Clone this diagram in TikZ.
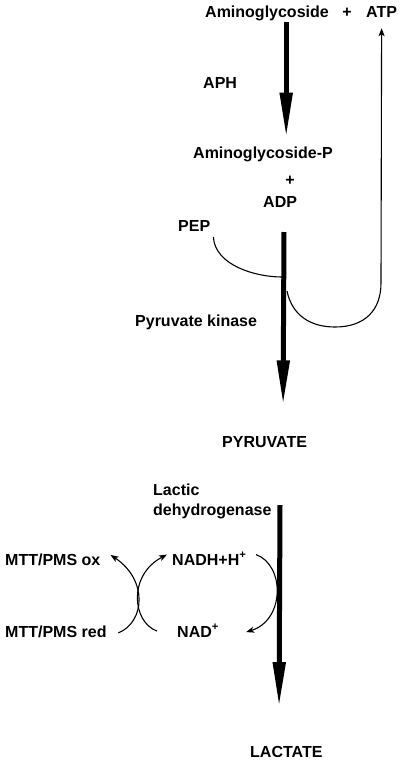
\documentclass[tikz,border=0pt]{standalone}
\usepackage{fontspec}
\setmainfont{Liberation Sans}
\usetikzlibrary{arrows.meta,calc}
\begin{document}
\begin{tikzpicture}[x=1pt,y=-1pt,
  lbl/.style={inner sep=0pt,anchor=base west,font=\fontsize{16}{19}\selectfont\bfseries},
  bigarrow/.style={line width=5pt,-{Triangle[length=45pt,width=12pt]}},
  smallarrow/.style={line width=1.1pt,-{Stealth[length=8pt,width=6pt,inset=2pt]}},
  smallline/.style={line width=1.1pt}]
\useasboundingbox (0,0) rectangle (400,761);
% labels
\node[lbl] (amino) at (205,17) {Aminoglycoside};
\node[lbl,anchor=base] (plusa) at (347,17) {+};
\node[lbl] (atp) at (366,17) {ATP};
\node[lbl] (aph) at (203,88) {APH};
\node[lbl] (aminop) at (193,158) {Aminoglycoside-P};
\node[lbl,anchor=base] (plusb) at (290,185.5) {+};
\node[lbl] (adp) at (263,207) {ADP};
\node[lbl] (pep) at (178,231) {PEP};
\node[lbl] (pk) at (135,326) {Pyruvate kinase};
\node[lbl] (pyr) at (222,447) {PYRUVATE};
\node[lbl] (lactic) at (153,495) {Lactic};
\node[lbl] (ldh) at (153,515) {dehydrogenase};
\node[lbl] (mttox) at (5,565) {MTT/PMS ox};
\node[lbl] (nadh) at (172,565) {NADH+H\textsuperscript{+}};
\node[lbl] (mttred) at (5,637) {MTT/PMS red};
\node[lbl] (nad) at (177,637) {NAD\textsuperscript{+}};
\node[lbl] (lac) at (250,757) {LACTATE};
% coordinates on the thick arrows
\coordinate (pkstart) at (284,232);
\coordinate (pepend) at (282,277);
\coordinate (atpstart) at (287,291);
\coordinate (ldhstart) at (280,505);
% thick arrows
\draw[bigarrow] ($(amino.south)+(19.2,1.6)$) -- ($(aminop.north)+(23.2,-8.5)$);
\draw[bigarrow] (pkstart) -- ($(pyr.north)+(18.5,-30.5)$);
\draw[bigarrow] (ldhstart) -- ($(lac.north)+(-7.3,-38.5)$);
% PEP in, ATP out
\draw[smallline] ($(pep.south east)+(3,6)$) .. controls (215,265) and (255,277) .. (pepend);
\draw[smallarrow] (atpstart) .. controls (292,315) and (310,327) .. (335,327)
  .. controls (365,327) and (381,310) .. (381,283) -- ($(atp.south)+(0,11)$);
% MTT/PMS and NAD cycle
\draw[smallarrow] ($(mttred.east)+(11.7,1.5)$) .. controls (145,622) and (148,580) .. ($(mttox.east)+(10,-4.5)$);
\draw[smallarrow] ($(nad.west)+(-20,0.5)$) .. controls (132,622) and (128,575) .. ($(nadh.west)+(-5,-4)$);
\draw[smallarrow] ($(nadh.east)+(9.5,-4)$) .. controls (285,565) and (285,620) .. ($(nad.east)+(27,1.5)$);
\end{tikzpicture}
\end{document}
